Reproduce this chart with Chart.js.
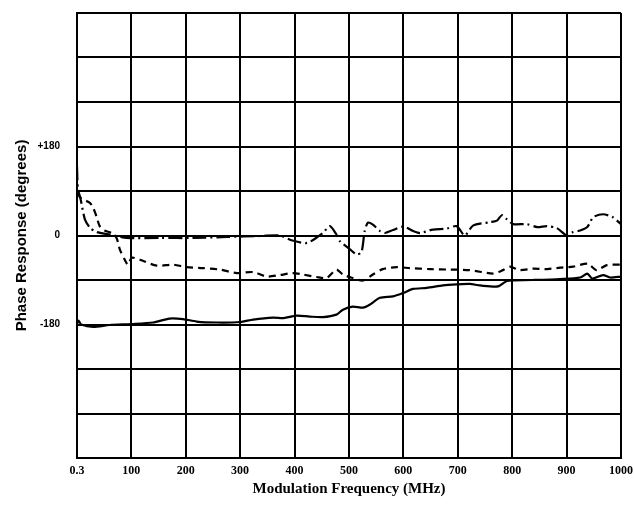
<!DOCTYPE html>
<html>
<head>
<meta charset="utf-8">
<script src="https://cdn.jsdelivr.net/npm/chart.js@4"></script>
<style>
  body { margin: 0; background: #fff; }
  canvas { display: block; }
</style>
</head>
<body>
<canvas id="phase-chart" width="634" height="505"></canvas>
<script>
// tick positions
var freqTicks = [0.3, 100, 200, 300, 400, 500, 600, 700, 800, 900, 1000];
var labeledPhases = [180, 0, -180];

// solid curve
var solidFreq = [0.3, 3, 8, 30, 60, 100, 140, 170, 195, 220, 257, 300, 324, 361, 380, 404, 428, 452, 477, 489, 507, 526, 538, 557, 581, 600, 618, 643, 673, 698, 722, 741, 774, 790, 802, 838, 888, 925, 938, 947, 967, 980, 1000];
var solidPhase = [-180, -172, -180, -185, -181, -179, -176, -168, -169, -174, -176, -175, -170, -166, -167, -162, -164, -165, -160, -150, -144, -146, -140, -126, -123, -116, -108, -106, -101, -99, -98, -101, -103, -92, -91, -90, -88, -85, -77, -87, -80, -85, -83];

// dashed curve
var dashFreq = [0.3, 8, 24, 30, 36, 42, 51, 64, 73, 79, 88, 94, 101, 116, 147, 177, 202, 232, 263, 294, 324, 349, 373, 397, 416, 441, 459, 477, 489, 507, 526, 544, 562, 588, 612, 649, 686, 722, 765, 783, 796, 814, 838, 864, 888, 912, 939, 955, 974, 1000];
var dashPhase = [85, 75, 66, 56, 39, 19, 10, 5, -5, -28, -49, -59, -45, -49, -61, -59, -64, -66, -69, -76, -74, -83, -80, -76, -79, -84, -86, -69, -79, -86, -91, -79, -68, -64, -66, -68, -69, -70, -77, -70, -63, -70, -67, -68, -65, -63, -57, -70, -60, -59];

// dash-dot curve
var dotFreq = [0.3, 2, 7, 15, 24, 36, 61, 92, 153, 214, 276, 337, 373, 393, 423, 452, 465, 477, 483, 502, 514, 523, 529, 535, 544, 557, 566, 581, 600, 618, 631, 654, 680, 698, 713, 728, 759, 772, 781, 790, 802, 827, 846, 864, 882, 901, 912, 925, 938, 949, 967, 985, 1000];
var dotPhase = [140, 95, 73, 32, 16, 7, 2, -5, -5, -5, -3, -1, 0, -9, -15, 5, 19, 2, -11, -28, -38, -34, 9, 26, 22, 9, 5, 11, 18, 9, 5, 12, 14, 19, 0, 20, 27, 30, 41, 33, 23, 23, 17, 19, 15, 0, 7, 10, 17, 37, 43, 37, 23];

function toPoints(xs, ys) {
  return xs.map(function (x, i) { return { x: x, y: ys[i] }; });
}

new Chart(document.getElementById('phase-chart'), {
  type: 'line',
  data: {
    datasets: [{
      data: toPoints(solidFreq, solidPhase),
      borderColor: '#000',
      borderWidth: 2.2,
      pointRadius: 0,
      tension: 0.25
    }, {
      data: toPoints(dashFreq, dashPhase),
      borderColor: '#000',
      borderWidth: 2.2,
      borderDash: [7, 5],
      pointRadius: 0,
      tension: 0.25
    }, {
      data: toPoints(dotFreq, dotPhase),
      borderColor: '#000',
      borderWidth: 2.2,
      borderDash: [14, 4, 2, 4],
      pointRadius: 0,
      tension: 0.25
    }]
  },
  options: {
    responsive: false,
    animation: false,
    layout: { padding: { left: 0, right: 13, top: 13, bottom: 0 } },
    plugins: {
      legend: { display: false },
      tooltip: { enabled: false }
    },
    scales: {
      x: {
        type: 'linear',
        min: 0.3,
        max: 1000,
        afterBuildTicks: function (scale) {
          scale.ticks = freqTicks.map(function (v) { return { value: v }; });
        },
        afterFit: function (scale) {
          scale.height = 47;
          scale.paddingLeft = 0;
          scale.paddingRight = 0;
        },
        grid: { color: '#000', lineWidth: 2, drawTicks: false },
        border: { color: '#000', width: 2 },
        ticks: {
          color: '#000',
          padding: 6,
          maxRotation: 0,
          autoSkip: false,
          font: { family: 'Liberation Serif', size: 12, weight: 'bold' },
          callback: function (v) { return String(v); }
        },
        title: {
          display: true,
          text: 'Modulation Frequency (MHz)',
          color: '#000',
          padding: { top: 0, bottom: 7 },
          font: { family: 'Liberation Serif', size: 15, weight: 'bold' }
        }
      },
      y: {
        min: -450,
        max: 450,
        afterBuildTicks: function (scale) {
          var t = [];
          for (var v = -450; v <= 450; v += 90) t.push({ value: v });
          scale.ticks = t;
        },
        afterFit: function (scale) {
          scale.width = 77;
          scale.paddingTop = 0;
          scale.paddingBottom = 0;
        },
        grid: { color: '#000', lineWidth: 2, drawTicks: false },
        border: { color: '#000', width: 2 },
        ticks: {
          color: '#000',
          padding: 17,
          autoSkip: false,
          font: { family: 'Liberation Sans', size: 10, weight: 'bold' },
          callback: function (v) {
            if (labeledPhases.indexOf(v) < 0) return '';
            return v > 0 ? '+' + v : String(v);
          }
        },
        title: {
          display: true,
          text: 'Phase Response (degrees)',
          color: '#000',
          padding: { top: 13, bottom: 0 },
          font: { family: 'Liberation Sans', size: 15, weight: 'bold' }
        }
      }
    }
  }
});
</script>
</body>
</html>
